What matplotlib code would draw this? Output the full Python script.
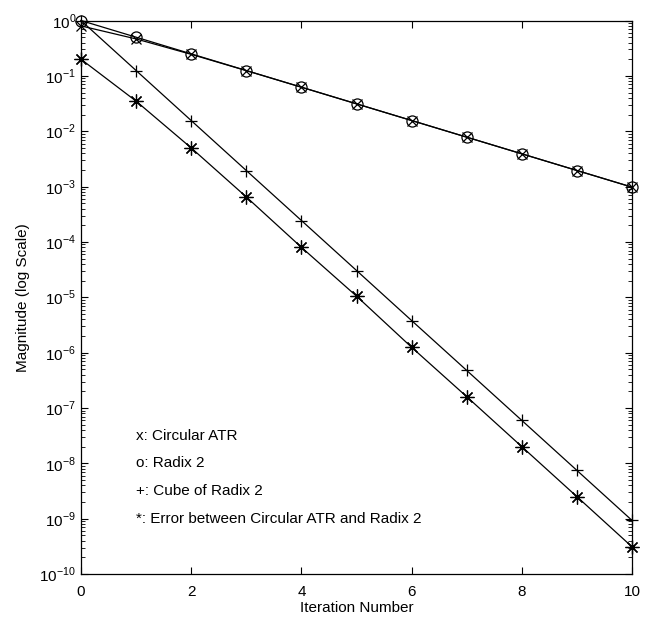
import matplotlib
matplotlib.use("Agg")
import matplotlib.pyplot as plt
from matplotlib.ticker import FixedLocator, NullFormatter

plt.rcParams["font.family"] = ["Liberation Sans", "DejaVu Sans"]
plt.rcParams["mathtext.fontset"] = "custom"
plt.rcParams["mathtext.rm"] = "Liberation Sans"

iterations = list(range(11))
circular_atr = [0.8, 0.465, 0.245, 0.1244, 0.0624, 0.03124, 0.01562,
                0.007812, 0.003906, 0.001953, 0.0009766]
radix2 = [1.0, 0.5, 0.25, 0.125, 0.0625, 0.03125, 0.015625,
          0.0078125, 0.00390625, 0.001953125, 0.0009765625]
cube_radix2 = [1.0, 0.125, 0.0156, 1.95e-3, 2.44e-4, 3.05e-5, 3.8e-6,
               4.77e-7, 5.96e-8, 7.45e-9, 9.3e-10]
error_atr = [0.2, 0.035, 5.0e-3, 6.5e-4, 8.0e-5, 1.05e-5, 1.25e-6,
             1.6e-7, 2.0e-8, 2.5e-9, 3.1e-10]

x_ticks = [0, 2, 4, 6, 8, 10]
y_exponents = list(range(-10, 1))

legend_lines = [
    "x: Circular ATR",
    "o: Radix 2",
    "+: Cube of Radix 2",
    "*: Error between Circular ATR and Radix 2",
]
legend_y = [10 ** -7.5, 1e-8, 10 ** -8.5, 1e-9]

fig = plt.figure(figsize=(6.53, 6.22), dpi=100)
ax = fig.add_axes([0.124, 0.077, 0.844, 0.89])

style = dict(color="black", linewidth=0.9, clip_on=False, zorder=3)
asterisk = (8, 2, 0)
ax.plot(iterations, circular_atr, marker="x", markersize=7, mew=0.9, **style)
ax.plot(iterations, radix2, marker="o", markersize=8, mfc="none", mew=0.9, **style)
ax.plot(iterations, cube_radix2, marker="+", markersize=9, mew=0.9, **style)
ax.plot(iterations, error_atr, marker=asterisk, markersize=10, mew=0.9, **style)

for label, y in zip(legend_lines, legend_y):
    ax.text(1.0, y, label, fontsize=11, va="center", ha="left")

ax.set_yscale("log")
ax.set_xlim(0, 10)
ax.set_ylim(1e-10, 1)
ax.xaxis.set_major_locator(FixedLocator(x_ticks))
major_y = [10.0 ** e for e in y_exponents]
minor_y = [m * 10.0 ** e for e in y_exponents[:-1] for m in range(2, 10)]
ax.yaxis.set_major_locator(FixedLocator(major_y))
ax.yaxis.set_minor_locator(FixedLocator(minor_y))
ax.yaxis.set_minor_formatter(NullFormatter())
ax.set_yticklabels([f"$10^{{{e}}}$" for e in y_exponents])

ax.tick_params(which="both", direction="in", top=True, right=True, labelsize=11)
ax.tick_params(which="major", length=5, width=0.8)
ax.tick_params(which="minor", length=3, width=0.6)
ax.tick_params(axis="x", which="major", pad=8)
for spine in ax.spines.values():
    spine.set_linewidth(0.9)

ax.set_xlabel("Iteration Number", fontsize=11, labelpad=1)
ax.set_ylabel("Magnitude (log Scale)", fontsize=11, labelpad=7)

fig.savefig("out.png", dpi=100)
